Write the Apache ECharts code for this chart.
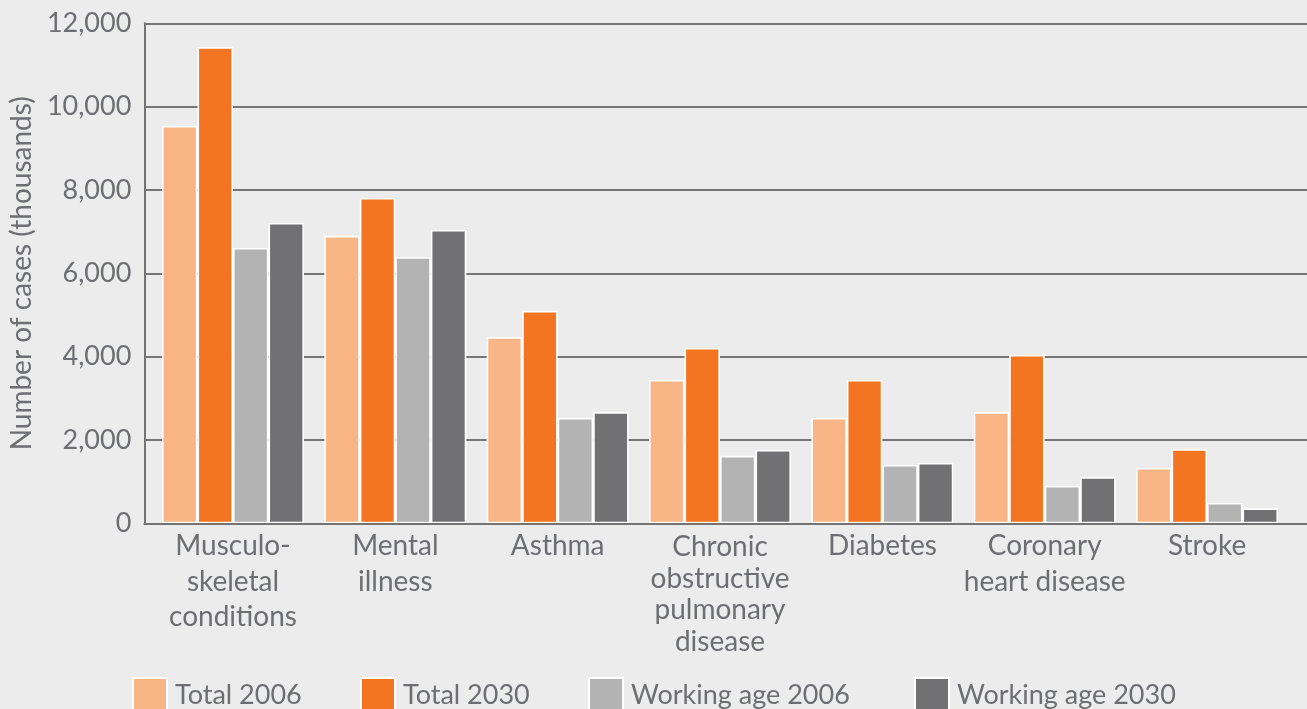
<!DOCTYPE html>
<html>
<head>
<meta charset="utf-8">
<script src="https://cdn.jsdelivr.net/npm/echarts@6/dist/echarts.min.js"></script>
<style>
html,body{margin:0;padding:0;background:#ececec;}
#chart{width:1307px;height:709px;}
</style>
</head>
<body>
<div id="chart"></div>
<script>
const categories = [
  "Musculo-\nskeletal\nconditions",
  "Mental\nillness",
  "Asthma",
  "Chronic\nobstructive\npulmonary\ndisease",
  "Diabetes",
  "Coronary\nheart disease",
  "Stroke"
];
const seriesNames = ["Total 2006", "Total 2030", "Working age 2006", "Working age 2030"];
const total2006 = [9540, 6900, 4470, 3440, 2530, 2670, 1330];
const total2030 = [11430, 7810, 5100, 4210, 3440, 4040, 1780];
const workingAge2006 = [6610, 6390, 2530, 1620, 1400, 900, 490];
const workingAge2030 = [7210, 7040, 2670, 1760, 1450, 1110, 360];
const yTicks = [0, 2000, 4000, 6000, 8000, 10000, 12000];
const yAxisTitle = "Number of cases (thousands)";

const colors = ["#f9b586", "#f47521", "#b3b3b4", "#717073"];
const textColor = "#6d6e71";
const FONT = "Lato";
const seriesData = [total2006, total2030, workingAge2006, workingAge2030];

const chart = echarts.init(document.getElementById('chart'));
const legendLefts = [132, 360, 588, 914];

// Four-line label uses tighter leading in the reference
const categoryItems = categories.map(c => {
  const lines = c.split('\n').length;
  return lines >= 4 ? { value: c, textStyle: { lineHeight: 31.5, padding: [3, 0, 0, 0] } } : c;
});

const option = {
  backgroundColor: '#ececec',
  animation: false,
  textStyle: { fontFamily: FONT, color: textColor },
  grid: [
    { left: 134, right: 0, top: 23.3, bottom: 185.7 },
    { left: 151.8, right: 18.8, top: 23.3, bottom: 185.7 }
  ],
  legend: seriesNames.map((n, i) => ({
    data: [n],
    left: legendLefts[i],
    top: 677,
    itemWidth: 34,
    itemHeight: 34,
    itemGap: 0,
    padding: 0,
    icon: 'rect',
    selectedMode: false,
    textStyle: { fontFamily: FONT, fontSize: 27, color: textColor, padding: [0, 0, 0, 3] }
  })),
  xAxis: [
    {
      gridIndex: 0, type: 'value', min: 0, max: 1, z: 3,
      axisLine: { show: true, lineStyle: { color: '#737373', width: 2 } },
      axisTick: { show: false }, axisLabel: { show: false }, splitLine: { show: false }
    },
    {
      gridIndex: 1, type: 'category', data: categoryItems,
      axisLine: { show: false }, axisTick: { show: false },
      axisLabel: {
        fontFamily: FONT, fontSize: 28, color: textColor,
        lineHeight: 35.5, margin: 5, interval: 0, align: 'center'
      }
    }
  ],
  yAxis: [
    {
      gridIndex: 0, type: 'value', min: yTicks[0], max: yTicks[yTicks.length - 1], interval: 2000,
      name: yAxisTitle, nameLocation: 'middle', nameGap: 96,
      nameTextStyle: { fontFamily: FONT, fontSize: 28, color: textColor },
      axisLine: { show: true, lineStyle: { color: '#737373', width: 2 } },
      axisTick: { show: false },
      splitLine: { show: true, lineStyle: { color: '#757575', width: 2 } },
      axisLabel: {
        fontFamily: FONT, fontSize: 27, color: textColor, margin: 13,
        formatter: v => v.toLocaleString('en-US')
      }
    },
    {
      gridIndex: 1, type: 'value', min: 0, max: 12000, show: false,
      splitLine: { show: false }
    }
  ],
  series: seriesNames.map((n, i) => ({
    name: n,
    type: 'bar',
    xAxisIndex: 1,
    yAxisIndex: 1,
    data: seriesData[i],
    barWidth: 35.5,
    barGap: '0%',
    itemStyle: { color: colors[i], borderColor: '#ffffff', borderWidth: 1.6 }
  }))
};
chart.setOption(option);
</script>
</body>
</html>
